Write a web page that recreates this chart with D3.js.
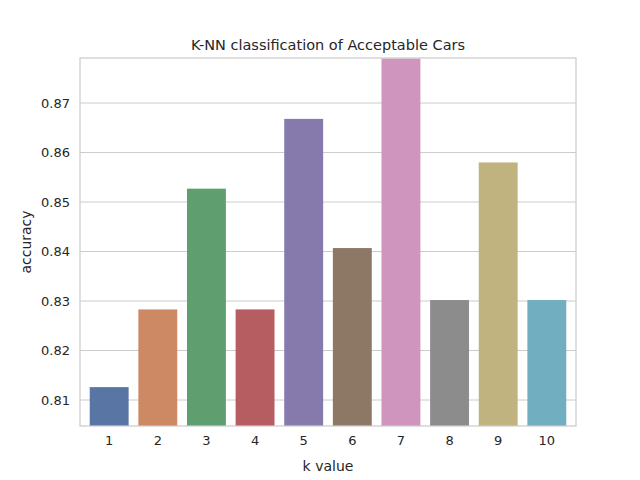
<html>
<script src="https://d3js.org/d3.v7.min.js"></script>
<style>
  body { margin: 0; background: #fff; }
  text { font-family: "DejaVu Sans", sans-serif; fill: #262626; }
</style>
<body>
<svg id="chart" width="640" height="480"></svg>
<script>
// k values and accuracy
var kValues = ["1", "2", "3", "4", "5", "6", "7", "8", "9", "10"];
var accuracy = [0.8126, 0.8283, 0.8527, 0.8283, 0.8668, 0.8407, 0.8790, 0.8302, 0.8580, 0.8302];
var barColors = ["#5975a4", "#cc8963", "#5f9e6e", "#b55d60", "#857aab",
                 "#8d7866", "#d095bf", "#8c8c8c", "#c1b37f", "#71aec0"];
var yTicks = [0.81, 0.82, 0.83, 0.84, 0.85, 0.86, 0.87];

var m = {left: 80, right: 64, top: 58, bottom: 54};
var W = 640, H = 480;
var svg = d3.select("#chart");

var x = d3.scaleBand().domain(kValues).range([m.left, W - m.right]).padding(0.2);
var y = d3.scaleLinear().domain([0.80475, 0.8791]).range([H - m.bottom, m.top]);

// grid
svg.append("g").selectAll("line").data(yTicks).enter().append("line")
  .attr("x1", m.left).attr("x2", W - m.right)
  .attr("y1", function(d){ return y(d); }).attr("y2", function(d){ return y(d); })
  .attr("stroke", "#cccccc").attr("stroke-width", 1);

// bars
svg.append("g").selectAll("rect").data(accuracy).enter().append("rect")
  .attr("x", function(d, i){ return x(kValues[i]); })
  .attr("width", x.bandwidth())
  .attr("y", function(d){ return y(d); })
  .attr("height", function(d){ return y.range()[0] - y(d); })
  .attr("fill", function(d, i){ return barColors[i]; });

// frame
svg.append("rect").attr("x", m.left).attr("y", m.top)
  .attr("width", W - m.left - m.right).attr("height", H - m.top - m.bottom)
  .attr("fill", "none").attr("stroke", "#cccccc").attr("stroke-width", 1.25);

// axes
var xAxis = svg.append("g").attr("transform", "translate(0," + (H - m.bottom) + ")")
  .call(d3.axisBottom(x).tickSize(0).tickPadding(10));
var yAxis = svg.append("g").attr("transform", "translate(" + m.left + ",0)")
  .call(d3.axisLeft(y).tickValues(yTicks).tickFormat(d3.format(".2f")).tickSize(0).tickPadding(10));
[xAxis, yAxis].forEach(function(a){
  a.select(".domain").remove();
  a.selectAll("text").attr("font-size", 13).style("font-family", "DejaVu Sans, sans-serif").attr("fill", "#262626");
});

svg.append("text").attr("x", (m.left + W - m.right) / 2).attr("y", 471)
  .attr("text-anchor", "middle").attr("font-size", 14).text("k value");
svg.append("text").attr("transform", "translate(31," + ((m.top + H - m.bottom) / 2) + ") rotate(-90)")
  .attr("text-anchor", "middle").attr("font-size", 14).text("accuracy");
svg.append("text").attr("x", (m.left + W - m.right) / 2).attr("y", 50)
  .attr("text-anchor", "middle").attr("font-size", 14.5).text("K-NN classification of Acceptable Cars");
</script>
</body>
</html>
